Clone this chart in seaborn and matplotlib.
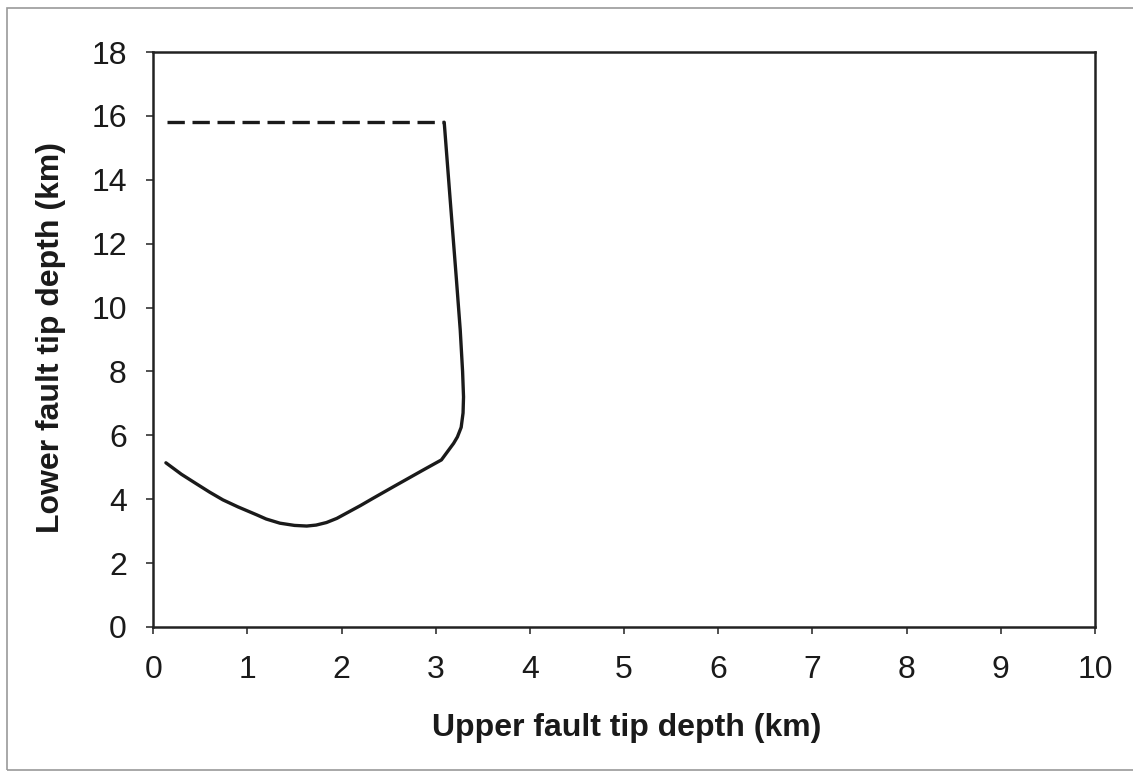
import matplotlib
matplotlib.use("Agg")
import matplotlib.pyplot as plt
import seaborn as sns
import pandas as pd
from matplotlib.patches import Rectangle

# Data
dashed_x = [0.15, 3.09]
dashed_y = [15.8, 15.8]

solid_x = [3.09, 3.15, 3.22, 3.26, 3.285, 3.295, 3.29, 3.27, 3.23, 3.19, 3.06, 2.87, 2.55, 2.335,
           2.2, 2.05, 1.95, 1.84, 1.73, 1.63, 1.5, 1.345, 1.2, 1.10, 0.9, 0.74, 0.6, 0.46, 0.3, 0.135]
solid_y = [15.8, 13.5, 10.86, 9.3, 8.0, 7.2, 6.7, 6.25, 5.95, 5.75, 5.23, 4.92, 4.39, 4.03,
           3.8, 3.56, 3.4, 3.27, 3.19, 3.16, 3.18, 3.25, 3.38, 3.51, 3.76, 3.98, 4.22, 4.48, 4.78, 5.14]

x_ticks = list(range(0, 11))
y_ticks = list(range(0, 19, 2))

sns.set_theme(style="ticks")
plt.rcParams['font.family'] = ['Liberation Sans', 'DejaVu Sans']

fig = plt.figure(figsize=(11.33, 7.73), dpi=100)
ax = fig.add_axes([0.1352, 0.1889, 0.9665 - 0.1352, 0.9327 - 0.1889])

df_solid = pd.DataFrame({"x": solid_x, "y": solid_y})
df_dash = pd.DataFrame({"x": dashed_x, "y": dashed_y})

sns.lineplot(data=df_solid, x="x", y="y", sort=False, estimator=None, color="#1a1a1a", linewidth=2.4, ax=ax)
sns.lineplot(data=df_dash, x="x", y="y", sort=False, estimator=None, color="#1a1a1a", linewidth=2.4, ax=ax,
             linestyle=(0, (5.2, 2.3)))

ax.set_xlim(0, 10)
ax.set_ylim(0, 18)
ax.set_xticks(x_ticks)
ax.set_yticks(y_ticks)
ax.tick_params(axis='both', labelsize=23, length=5, width=1.2, color="#333333", labelcolor="#1a1a1a")
ax.tick_params(axis='x', pad=15)
ax.tick_params(axis='y', pad=14)
for s in ax.spines.values():
    s.set_visible(True)
    s.set_linewidth(1.8)
    s.set_color("#222222")

ax.set_xlabel("Upper fault tip depth (km)", fontsize=23, fontweight="bold", color="#1a1a1a")
ax.set_ylabel("Lower fault tip depth (km)", fontsize=23, fontweight="bold", color="#1a1a1a")
ax.xaxis.set_label_coords(0.503, -0.176)
ax.xaxis.label.set_va("center")
ax.yaxis.set_label_coords(-0.108, 0.504)
ax.yaxis.label.set_va("center")
ax.yaxis.label.set_ha("center")

fig.patches.append(Rectangle((0.0062, 0.004), 1.0, 0.9857, transform=fig.transFigure,
                             fill=False, edgecolor="#9a9a9a", linewidth=1.2))

fig.savefig("out.png", dpi=100)
